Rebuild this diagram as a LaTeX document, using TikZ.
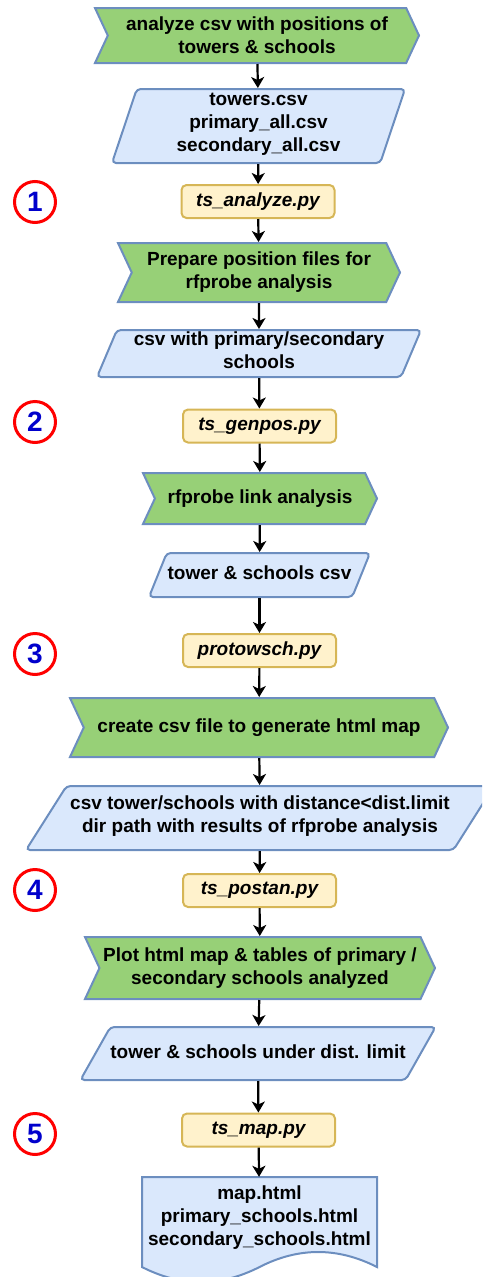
\documentclass[tikz,border=0pt]{standalone}
\usepackage{fontspec}
\setmainfont{Liberation Sans}
\usetikzlibrary{shapes.symbols,shapes.geometric,arrows.meta}

\definecolor{stepgreen}{HTML}{97D077}
\definecolor{edgeblue}{HTML}{6C8EBF}
\definecolor{filefill}{HTML}{DAE8FC}
\definecolor{scriptfill}{HTML}{FFF2CC}
\definecolor{scriptedge}{HTML}{D6B656}
\definecolor{numblue}{HTML}{0000CC}

% fixed line box so the slant of the file shapes does not depend on the text
\newcommand{\filestrut}{\rule[-7pt]{0pt}{23pt}}

\begin{document}
\begin{tikzpicture}[x=1pt,y=-1pt,
    font=\fontsize{19}{23}\selectfont\bfseries,
    stepbox/.style={signal, signal from=west, signal to=east, signal pointer angle=130,
      draw=edgeblue, fill=stepgreen, line width=2pt, inner sep=0pt, align=center},
    filebox/.style={trapezium, trapezium left angle=#1, trapezium right angle=180-#1,
      trapezium stretches body=true, draw=edgeblue, fill=filefill, line width=2pt,
      rounded corners=4pt, inner xsep=0pt, align=center,
      execute at begin node=\filestrut, execute at end node=\filestrut},
    scriptbox/.style={rectangle, rounded corners=5pt, draw=scriptedge, fill=scriptfill,
      line width=2pt, minimum width=153pt, minimum height=33pt,
      font=\fontsize{19}{23}\selectfont\bfseries\itshape},
    stepnum/.style={circle, draw=red, line width=3pt, minimum size=41pt, inner sep=0pt,
      text=numblue, font=\fontsize{28}{28}\selectfont\bfseries},
    flow/.style={-{Stealth[length=11pt,width=13pt,inset=3pt]}, line width=2.2pt}]
  \useasboundingbox (0,0) rectangle (482,1277);
  \clip (0,0) rectangle (482,1277);

  % output document, drawn first so the text sits on top
  \draw[draw=edgeblue, fill=filefill, line width=2pt]
    (142,1177) -- (377,1177) -- (377,1267)
    .. controls (337.7,1247) and (298.5,1247) .. (259.5,1267)
    .. controls (220.5,1287) and (181,1287) .. (142,1267) -- cycle;

  \node[stepbox, minimum width=324pt, minimum height=55pt] (s1) at (257,35.5)
    {analyze csv with positions of\\towers \& schools};
  \node[filebox=70.6, minimum width=293pt, minimum height=74pt, inner ysep=2.5pt] (d1)
    at (258.5,126) {towers.csv\\primary\_all.csv\\secondary\_all.csv};
  \node[scriptbox] (p1) at (258,201.5) {ts\_analyze.py};
  \node[stepbox, minimum width=282pt, minimum height=59pt] (s2) at (259,272.5)
    {Prepare position files for\\rfprobe analysis};
  \node[filebox=66, minimum width=324pt, minimum height=47pt, inner ysep=0.5pt] (d2)
    at (259,353.5) {csv with primary/secondary\\schools};
  \node[scriptbox] (p2) at (259.5,426) {ts\_genpos.py};
  \node[stepbox, minimum width=234pt, minimum height=51pt] (s3) at (260,498.5)
    {rfprobe link analysis};
  \node[filebox=68, minimum width=221pt, minimum height=44pt, inner ysep=10.5pt] (d3)
    at (259.5,575) {tower \& schools csv};
  \node[scriptbox] (p3) at (259.5,650.5) {protowsch.py};
  \node[stepbox, minimum width=378pt, minimum height=59pt] (s4) at (259,727.5)
    {create csv file to generate html map};
  \node[filebox=56.7, minimum width=468pt, minimum height=64pt, inner ysep=9pt] (d4)
    at (260,818) {csv tower/schools with distance<dist.limit\\dir path with results of rfprobe analysis};
  \node[scriptbox] (p4) at (259.5,890.5) {ts\_postan.py};
  \node[stepbox, minimum width=350pt, minimum height=62pt] (s5) at (260,968)
    {Plot html map \& tables of primary /\\secondary schools analyzed};
  \node[filebox=60.5, minimum width=340pt, minimum height=53pt, inner ysep=15pt] (d5)
    at (258,1053.5) {tower \& schools under dist. limit};
  \node[scriptbox] (p5) at (258.5,1130) {ts\_map.py};
  \node[minimum width=235pt, minimum height=81pt, inner sep=0pt, align=center] (out)
    at (259.5,1217.5) {map.html\\primary\_schools.html\\secondary\_schools.html};

  \node[stepnum] (n1) at (35,202) {1};
  \node[stepnum] (n2) at (35,422) {2};
  \node[stepnum] (n3) at (35,654) {3};
  \node[stepnum] (n4) at (35,890) {4};
  \node[stepnum] (n5) at (35,1134) {5};

  \draw[flow] (s1) to (d1);
  \draw[flow] (d1) to (p1);
  \draw[flow] (p1) to (s2);
  \draw[flow] (s2) to (d2);
  \draw[flow] (d2) to (p2);
  \draw[flow] (p2) to (s3);
  \draw[flow] (s3) to (d3);
  \draw[flow] (d3) to (p3);
  \draw[flow] (p3) to (s4);
  \draw[flow] (s4) to (d4);
  \draw[flow] (d4) to (p4);
  \draw[flow] (p4) to (s5);
  \draw[flow] (s5) to (d5);
  \draw[flow] (d5) to (p5);
  \draw[flow] (p5) to (out);
\end{tikzpicture}
\end{document}
